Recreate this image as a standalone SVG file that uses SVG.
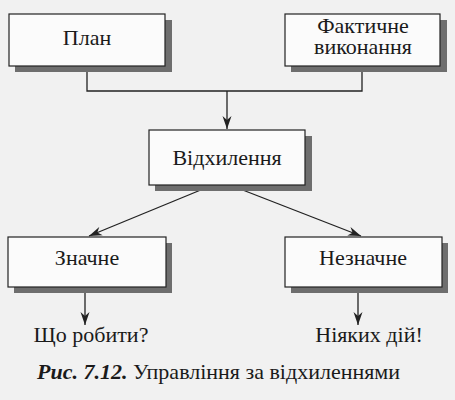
<svg xmlns="http://www.w3.org/2000/svg" width="455" height="400" viewBox="0 0 455 400">
  <style>
    .box { fill: #fbfbfb; stroke: #222; stroke-width: 1.2; }
    .shadow { fill: #6e6e6e; }
    .conn { fill: none; stroke: #222; stroke-width: 1.3; }
  </style>
  <defs>
    <marker id="arr" markerWidth="14" markerHeight="10" refX="13" refY="5" orient="auto" markerUnits="userSpaceOnUse">
      <path d="M0,0.5 L13,5 L0,9.5 L4,5 Z" fill="#222"/>
    </marker>
  </defs>
  <rect width="455" height="400" fill="#f1f1f1"/>

  <g id="connectors">
    <path class="conn" d="M87,66 V91 H362 V66"/>
    <path class="conn" d="M227,91 V129" marker-end="url(#arr)"/>
    <path class="conn" d="M208,187 L89,236" marker-end="url(#arr)"/>
    <path class="conn" d="M235,187 L361,236" marker-end="url(#arr)"/>
    <path class="conn" d="M85,292 V325" marker-end="url(#arr)"/>
    <path class="conn" d="M358,292 V325" marker-end="url(#arr)"/>
  </g>

  <g id="plan">
    <rect class="shadow" x="15" y="20" width="157" height="52"/>
    <rect class="box" x="9" y="14" width="156" height="52"/>
    <text x="87" y="45" font-family="Liberation Serif" font-size="22" fill="#1a1a1a" text-anchor="middle">План</text>
  </g>

  <g id="fact">
    <rect class="shadow" x="291" y="20" width="156" height="52"/>
    <rect class="box" x="285" y="14" width="155" height="52"/>
    <text x="363" y="33" font-family="Liberation Serif" font-size="22" fill="#1a1a1a" text-anchor="middle">Фактичне</text>
    <text x="363" y="54" font-family="Liberation Serif" font-size="22" fill="#1a1a1a" text-anchor="middle">виконання</text>
  </g>

  <g id="deviation">
    <rect class="shadow" x="155" y="136" width="157" height="55"/>
    <rect class="box" x="149" y="130" width="156" height="55"/>
    <text x="227" y="165" font-family="Liberation Serif" font-size="22" fill="#1a1a1a" text-anchor="middle">Відхилення</text>
  </g>

  <g id="significant">
    <rect class="shadow" x="14" y="243" width="158" height="50"/>
    <rect class="box" x="8" y="237" width="158" height="50"/>
    <text x="87" y="265" font-family="Liberation Serif" font-size="22" fill="#1a1a1a" text-anchor="middle">Значне</text>
  </g>

  <g id="insignificant">
    <rect class="shadow" x="291" y="243" width="157" height="50"/>
    <rect class="box" x="285" y="237" width="157" height="50"/>
    <text x="363" y="265" font-family="Liberation Serif" font-size="22" fill="#1a1a1a" text-anchor="middle">Незначне</text>
  </g>

  <g id="what-to-do">
    <text x="91" y="342" font-family="Liberation Serif" font-size="22" fill="#1a1a1a" text-anchor="middle">Що робити?</text>
  </g>

  <g id="no-action">
    <text x="369" y="342" font-family="Liberation Serif" font-size="22" fill="#1a1a1a" text-anchor="middle">Ніяких дій!</text>
  </g>

  <text x="37" y="379" font-family="Liberation Serif" font-size="22" fill="#1a1a1a"><tspan font-weight="bold" font-style="italic">Рис. 7.12.</tspan> Управління за відхиленнями</text>
</svg>
